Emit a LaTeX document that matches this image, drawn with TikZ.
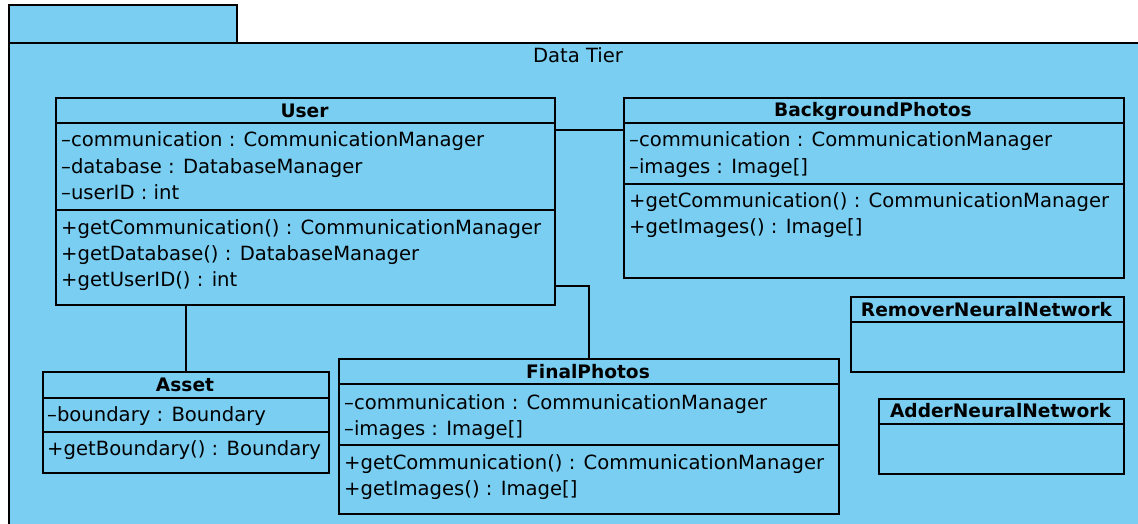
\documentclass[tikz,border=0pt]{standalone}
\usepackage{fontspec}
\setmainfont{DejaVu Sans}
\usetikzlibrary{calc,positioning}
\definecolor{TierBlue}{RGB}{121,206,242}
\newcommand{\umlsize}{\fontsize{19.6}{26}\selectfont}
\newcommand{\umltitlesize}{\fontsize{18.6}{26}\selectfont}
\tikzset{
  umlbox/.style={draw,line width=1.7pt,fill=TierBlue,anchor=north west,inner sep=0pt},
  umltitle/.style={font=\umltitlesize\bfseries,inner sep=0pt},
  umlline/.style={font=\umlsize,anchor=base west,inner sep=0pt},
  umllink/.style={line width=1.7pt}
}

\begin{document}
\begin{tikzpicture}[x=1pt,y=-1pt]
\useasboundingbox (0,0) rectangle (1138,524);
\fill[white] (0,0) rectangle (1138,524);
\clip (0,0) rectangle (1138,524);
% package
\node[umlbox,minimum width=228pt,minimum height=38pt] (tab) at (8,4) {};
\node[umlbox,minimum width=1150pt,minimum height=500pt] (tier) at (8,42) {};
\node[font=\umlsize] (tiername) at (578,55) {Data Tier};

% User
\node[umlbox,minimum width=499pt,minimum height=207pt] (user) at (55,97) {};
\node[umltitle] (usertitle) at (304.5,111) {User};
\draw[umllink] ($(user.north west)+(0,26)$) -- ++(499,0);
\draw[umllink] ($(user.north west)+(0,113)$) -- ++(499,0);
\foreach \t [count=\i] in {{--communication : CommunicationManager},{--database : DatabaseManager},{--userID : int}}
  \node[umlline] (user-a\i) at (61,121+26*\i) {\t};
\foreach \t [count=\i] in {{+getCommunication() : CommunicationManager},{+getDatabase() : DatabaseManager},{+getUserID() : int}}
  \node[umlline] (user-m\i) at (61,208+26*\i) {\t};

% BackgroundPhotos
\node[umlbox,minimum width=500pt,minimum height=180pt] (bgp) at (623,97) {};
\node[umltitle] (bgptitle) at (873,111) {BackgroundPhotos};
\draw[umllink] ($(bgp.north west)+(0,26)$) -- ++(500,0);
\draw[umllink] ($(bgp.north west)+(0,87)$) -- ++(500,0);
\foreach \t [count=\i] in {{--communication : CommunicationManager},{--images : Image[]}}
  \node[umlline] (bgp-a\i) at (629,121+26*\i) {\t};
\foreach \t [count=\i] in {{+getCommunication() : CommunicationManager},{+getImages() : Image[]}}
  \node[umlline] (bgp-m\i) at (629,181+26*\i) {\t};

% neural networks
\node[umlbox,minimum width=273pt,minimum height=75pt] (remover) at (850,296) {};
\node[umltitle] (removertitle) at (986.5,310) {RemoverNeuralNetwork};
\draw[umllink] ($(remover.north west)+(0,26)$) -- ++(273,0);
\node[umlbox,minimum width=245pt,minimum height=75pt] (adder) at (878,398) {};
\node[umltitle] (addertitle) at (1000.5,411) {AdderNeuralNetwork};
\draw[umllink] ($(adder.north west)+(0,26)$) -- ++(245,0);

% Asset
\node[umlbox,minimum width=286pt,minimum height=101pt] (asset) at (42,371) {};
\node[umltitle] (assettitle) at (185,385) {Asset};
\draw[umllink] ($(asset.north west)+(0,27)$) -- ++(286,0);
\draw[umllink] ($(asset.north west)+(0,61)$) -- ++(286,0);
\node[umlline] (asset-a1) at (47,421) {--boundary : Boundary};
\node[umlline] (asset-m1) at (47,455) {+getBoundary() : Boundary};

% FinalPhotos
\node[umlbox,minimum width=500pt,minimum height=155pt] (final) at (338,358) {};
\node[umltitle] (finaltitle) at (588,372) {FinalPhotos};
\draw[umllink] ($(final.north west)+(0,26)$) -- ++(500,0);
\draw[umllink] ($(final.north west)+(0,87)$) -- ++(500,0);
\foreach \t [count=\i] in {{--communication : CommunicationManager},{--images : Image[]}}
  \node[umlline] (final-a\i) at (344,383+26*\i) {\t};
\foreach \t [count=\i] in {{+getCommunication() : CommunicationManager},{+getImages() : Image[]}}
  \node[umlline] (final-m\i) at (344,443+26*\i) {\t};

% associations
\draw[umllink] ($(user.north east)+(0,33)$) -- ($(bgp.north west)+(0,33)$);
\draw[umllink] (asset.north) -- (asset.north |- user.south);
\draw[umllink] ($(user.south east)+(0,-20)$) -| (final.north);
\end{tikzpicture}
\end{document}
